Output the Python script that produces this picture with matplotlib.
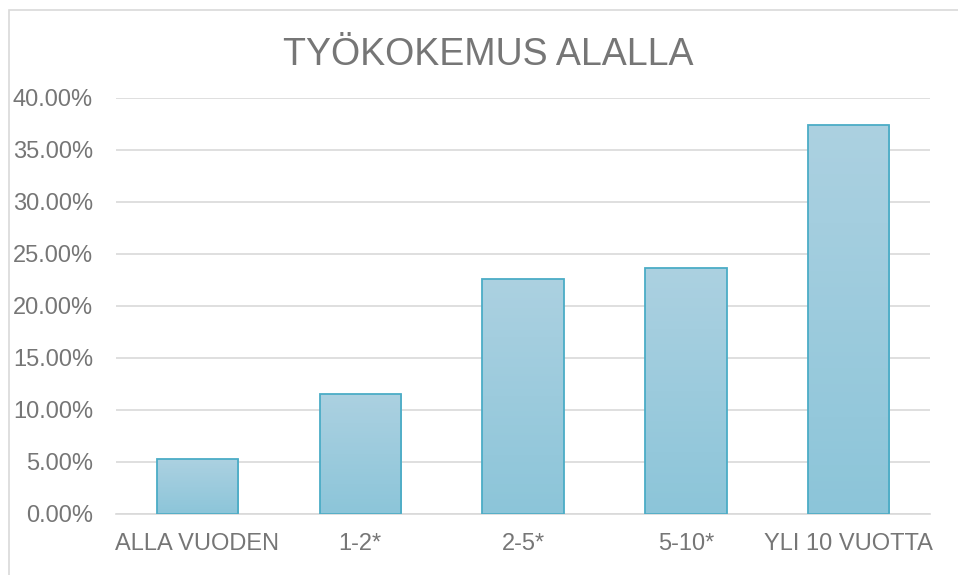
import numpy as np
import matplotlib.pyplot as plt
from matplotlib.colors import LinearSegmentedColormap
from matplotlib.patches import Rectangle
from matplotlib.ticker import FuncFormatter

plt.rcParams['font.family'] = ['Liberation Sans', 'DejaVu Sans']

categories = ["ALLA VUODEN", "1-2*", "2-5*", "5-10*", "YLI 10 VUOTTA"]
shares = [5.26, 11.58, 22.63, 23.68, 37.37]  # percent
y_ticks = [0, 5, 10, 15, 20, 25, 30, 35, 40]
title = "TYÖKOKEMUS ALALLA"

text_col = "#767676"
grid_col = "#D9D9D9"
edge_col = "#4BACC6"
grad = LinearSegmentedColormap.from_list("bar", ["#8CC5D9", "#ACD1E1"])

fig = plt.figure(figsize=(9.58, 5.75), dpi=100)
# outer chart border
fig.patches.append(Rectangle((9 / 958, -0.01), 1.0, 1 - 10 / 575 + 0.01,
                             transform=fig.transFigure, fill=False,
                             edgecolor="#D9D9D9", linewidth=1.2))

ax = fig.add_axes([116 / 958, 1 - 514 / 575, (930 - 116) / 958, (514 - 98) / 575])
x = np.arange(len(categories))
bars = ax.bar(x, shares, width=0.5, color="none", edgecolor=edge_col, linewidth=1.3, zorder=3)

g = np.linspace(0, 1, 256).reshape(-1, 1)
for b in bars:
    x0, w, h = b.get_x(), b.get_width(), b.get_height()
    im = ax.imshow(g, cmap=grad, aspect="auto", origin="lower",
                   extent=[x0, x0 + w, 0, h], zorder=2)
    im.set_clip_path(b)

ax.set_xlim(-0.5, len(categories) - 0.5)
ax.set_ylim(0, 40)
ax.set_yticks(y_ticks)
ax.yaxis.set_major_formatter(FuncFormatter(lambda v, p: f"{v:.2f}%"))
ax.set_xticks(x)
ax.set_xticklabels(categories)
ax.grid(axis="y", color=grid_col, linewidth=1.2, zorder=0)
for s in ["top", "right", "left"]:
    ax.spines[s].set_visible(False)
ax.spines["bottom"].set_color(grid_col)
ax.spines["bottom"].set_linewidth(1.2)
ax.tick_params(axis="both", length=0, labelsize=17, colors=text_col)
ax.tick_params(axis="y", pad=16.5)
ax.tick_params(axis="x", pad=14)

fig.text(488 / 958, 1 - 55 / 575, title, ha="center", va="center",
         fontsize=27, color=text_col)

fig.savefig("out.png", dpi=100)
